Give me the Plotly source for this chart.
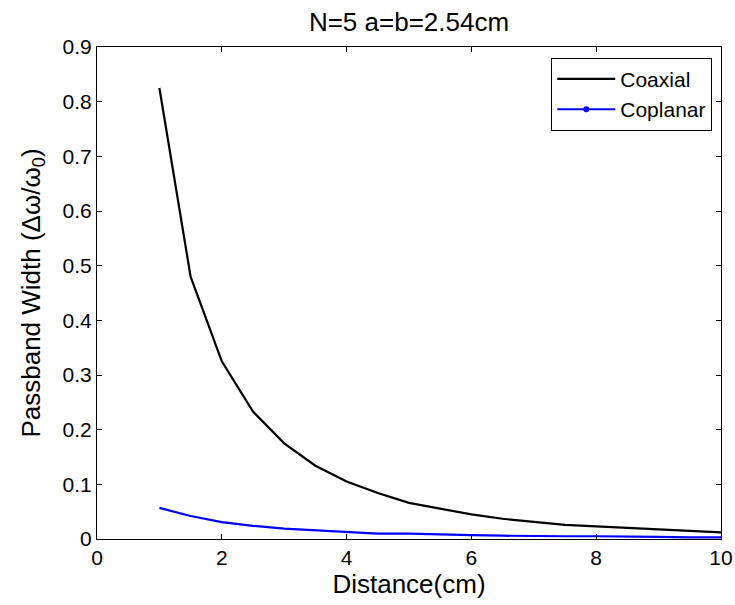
import plotly.graph_objects as go

distance = [1, 1.5, 2, 2.5, 3, 3.5, 4, 4.5, 5, 5.5, 6, 6.5, 7, 7.5, 8, 8.5, 9, 9.5, 10]
coaxial = [0.825, 0.48, 0.325, 0.233, 0.175, 0.134, 0.105, 0.084, 0.066, 0.055, 0.045,
           0.037, 0.031, 0.026, 0.023, 0.020, 0.017, 0.015, 0.012]
coplanar = [0.057, 0.042, 0.031, 0.024, 0.019, 0.016, 0.013, 0.010, 0.010, 0.008, 0.007,
            0.006, 0.005, 0.005, 0.005, 0.005, 0.004, 0.003, 0.003]

x_ticks = [0, 2, 4, 6, 8, 10]
y_ticks = [0, 0.1, 0.2, 0.3, 0.4, 0.5, 0.6, 0.7, 0.8, 0.9]
y_ticklabels = ["0", "0.1", "0.2", "0.3", "0.4", "0.5", "0.6", "0.7", "0.8", "0.9"]

FONT = "Liberation Sans, Arial, sans-serif"

fig = go.Figure()
fig.add_trace(go.Scatter(x=distance, y=coaxial, mode="lines", name="Coaxial",
                         line=dict(color="black", width=2.2)))
fig.add_trace(go.Scatter(x=distance, y=coplanar, mode="lines", name="Coplanar",
                         showlegend=False, line=dict(color="#0000ff", width=2.2)))
# legend entry for Coplanar (line with dot marker, as in the original legend)
fig.add_trace(go.Scatter(x=[None], y=[None], mode="lines+markers", name="Coplanar",
                         line=dict(color="#0000ff", width=2.2),
                         marker=dict(color="#0000ff", size=6)))

axis_common = dict(showline=True, linecolor="black", linewidth=1, mirror="ticks",
                   ticks="inside", ticklen=5, tickcolor="black", showgrid=False,
                   zeroline=False, automargin=False,
                   tickfont=dict(family=FONT, size=21, color="black"))

fig.update_layout(
    width=735, height=605,
    margin=dict(l=97, r=14, t=47, b=66),
    paper_bgcolor="white", plot_bgcolor="white",
    font=dict(family=FONT, color="black"),
    title=dict(text="N=5 a=b=2.54cm", x=0.5, xref="paper",
               xanchor="center", y=1, yref="paper", yanchor="bottom",
               pad=dict(b=16), font=dict(family=FONT, size=26, color="black")),
    xaxis=dict(range=[0, 10], tickvals=x_ticks,
               title=dict(text="Distance(cm)", font=dict(family=FONT, size=26), standoff=4),
               **axis_common),
    yaxis=dict(range=[0, 0.9], tickvals=y_ticks, ticktext=y_ticklabels,
               title=dict(text="Passband Width (Δω/ω<sub>0</sub>)",
                          font=dict(family=FONT, size=26), standoff=14),
               **axis_common),
    legend=dict(x=0.986, y=0.978, xanchor="right", yanchor="top",
                bgcolor="white", bordercolor="black", borderwidth=1,
                font=dict(family=FONT, size=21, color="black"),
                itemwidth=58, tracegroupgap=0),
)

fig.write_html("out.html")
